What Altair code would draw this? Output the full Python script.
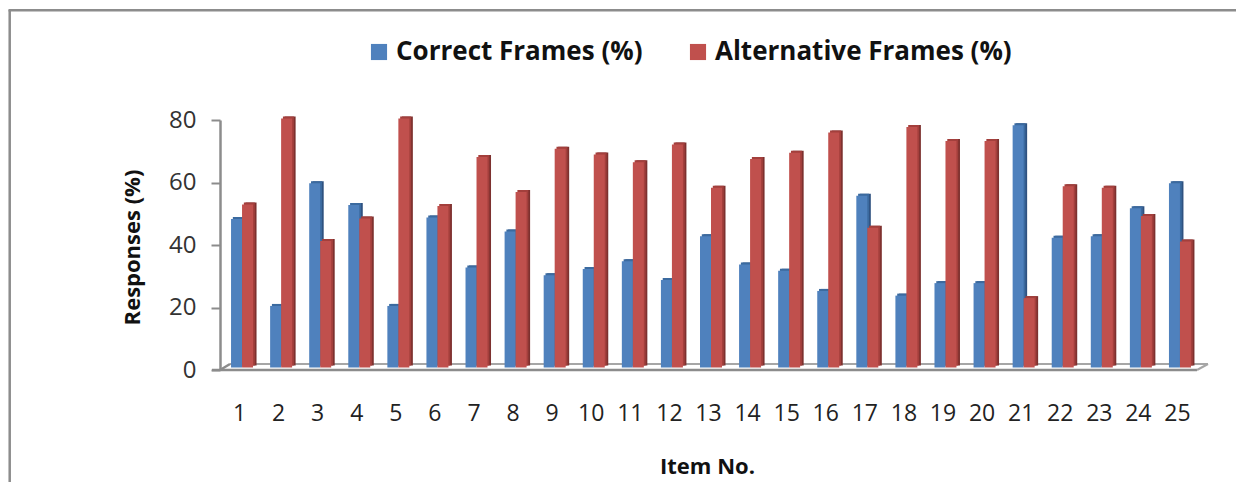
import altair as alt
import pandas as pd

items = [str(i) for i in range(1, 26)]
correct = [47.5, 19.7, 59, 52, 19.7, 48, 32, 43.5, 29.5, 31.5, 34, 28, 42, 33, 31, 24.5, 55, 23, 27, 27, 77.5, 41.5, 42, 51, 59]
alternative = [52.2, 79.7, 40.5, 47.7, 79.7, 51.7, 67.4, 56.2, 70, 68.2, 65.7, 71.4, 57.5, 66.7, 68.7, 75.2, 44.7, 77, 72.5, 72.5, 22.2, 58, 57.5, 48.5, 40.3]
series = ["Correct Frames (%)", "Alternative Frames (%)"]
colors = ["#4f81bd", "#c0504d"]
tops = ["#3b6a9f", "#a33f3c"]
sides = ["#2f5280", "#7d312f"]
FONT = "Open Sans"
GRAY = "#8c8c8c"

df = pd.DataFrame({"item": items, "correct": correct, "alternative": alternative})
x = alt.X("item:N", sort=items, title="Item No.", scale=alt.Scale(paddingInner=0, paddingOuter=0),
          axis=alt.Axis(labelAngle=0, labelFontSize=23, labelColor="#222222", labelFont=FONT, labelPadding=32,
                        ticks=False, domain=False, titleFont=FONT, titleFontSize=22, titleFontWeight="bold",
                        titleColor="#111111", titlePadding=31, titleX=487))
y_axis = alt.Axis(values=[0, 20, 40, 60, 80], grid=False, domainColor=GRAY, domainWidth=2.5, tickColor=GRAY, tickWidth=2,
                  tickSize=9, labelFontSize=24, labelColor="#333333", labelFont=FONT, labelPadding=15,
                  title="Responses (%)", titleFont=FONT, titleFontSize=22, titleFontWeight="bold", titleColor="#111111",
                  titleX=-76, titleY=127)
y = alt.Y("v:Q", scale=alt.Scale(domain=[0, 80]), axis=y_axis)


def lines(x1, x2, y1, y2, color=GRAY, w=2.5):
    return alt.Chart(pd.DataFrame({"a": [0]})).mark_rule(color=color, strokeWidth=w).encode(
        x=alt.value(x1), x2=alt.value(x2), y=alt.value(y1), y2=alt.value(y2))


def bar(field, name, color, dx, dy):
    return alt.Chart(df).transform_calculate(v=f"datum.{field}", s=f"'{name}'").mark_bar(
        size=11, xOffset=dx, yOffset=dy, color=color).encode(x=x, y=y)


front = []
for f, nm, c, t, s, dx in [("correct", series[0], colors[0], tops[0], sides[0], -3),
                           ("alternative", series[1], colors[1], tops[1], sides[1], 8)]:
    front.append(bar(f, nm, s, dx + 3.5, -4.5))
    front.append(bar(f, nm, t, dx + 1.8, -4.5))
    front.append(alt.Chart(df).transform_calculate(v=f"datum.{f}", s=f"'{nm}'").mark_bar(size=11, xOffset=dx, yOffset=-2.5).encode(
        x=x, y=y,
        color=alt.Color("s:N", scale=alt.Scale(domain=series, range=colors),
                        legend=alt.Legend(orient="none", legendX=146, legendY=-81, direction="horizontal", title=None,
                                          symbolType="square", symbolSize=260, symbolStrokeWidth=0, labelFont=FONT,
                                          labelFontSize=26, labelFontWeight="bold", labelColor="#111111",
                                          columnPadding=42, labelOffset=4, labelLimit=400))))

floor = [
    lines(-8, 977, 250, 250),
    lines(10, 988, 244, 244, "#a6a6a6", 2),
    lines(0, 10, 250, 244),
    lines(977, 988, 250, 244, "#a6a6a6", 2),
]
frame = [lines(-210.3, -210.3, -110, 370), lines(-211.5, 1030, -109.7, -109.7)]

chart = alt.layer(*frame, *floor, *front).properties(
    width=977, height=250,
    autosize=alt.AutoSizeParams(type="none"),
    padding={"left": 212, "top": 112, "right": 39, "bottom": 112},
).configure_view(stroke=None)

chart.save("out.html", embed_options={"renderer": "svg", "actions": False})
